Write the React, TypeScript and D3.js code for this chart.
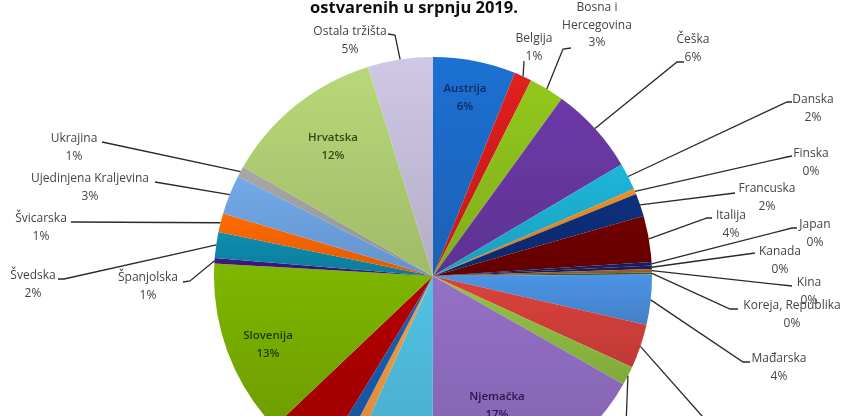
import React from 'react';
import * as d3 from 'd3';

// share of overnight stays per market (%)
const markets = [
  'Austrija', 'Belgija', 'Bosna i Hercegovina', 'Češka', 'Danska', 'Finska', 'Francuska', 'Italija',
  'Japan', 'Kanada', 'Kina', 'Koreja, Republika', 'Mađarska', 'Nizozemska', 'Norveška', 'Njemačka',
  'Poljska', 'Rumunjska', 'Rusija', 'Slovačka', 'Slovenija', 'Španjolska', 'Švedska', 'Švicarska',
  'Ujedinjena Kraljevina', 'Ukrajina', 'Hrvatska', 'Ostala tržišta',
];
const shares = [
  6.1, 1.3, 2.6, 6.5, 2.0, 0.4, 1.7, 3.4,
  0.25, 0.25, 0.25, 0.15, 3.7, 3.25, 1.4, 16.8,
  6.7, 0.9, 1.1, 4.2, 13.0, 0.4, 1.9, 1.4,
  2.9, 0.8, 11.9, 4.8,
];
const shown = [
  '6%', '1%', '3%', '6%', '2%', '0%', '2%', '4%',
  '0%', '0%', '0%', '0%', '4%', '3%', '1%', '17%',
  '7%', '1%', '1%', '4%', '13%', '1%', '2%', '1%',
  '3%', '1%', '12%', '5%',
];
const colors = [
  '#1f70d2', '#e0201f', '#92c81f', '#6c3aa8', '#1fb6da', '#f28c1e', '#0a2f7c', '#720000',
  '#1c1c60', '#1c1c60', '#a5601c', '#38603c', '#4c94e6', '#dc423c', '#94c444', '#9470c6',
  '#52c2e4', '#f79c42', '#1a60b4', '#b40404', '#7eb600', '#3c1a84', '#0a8eb0', '#ff6a00',
  '#72aaea', '#a8a8a8', '#b8d878', '#cfc8e6',
];
const title = 'ostvarenih u srpnju 2019.';

const width = 852;
const height = 416;
const cx = 433;
const cy = 276;
const radius = 219;

// where each outside label sits and how its leader bends: [label x, first line y, [leader points]]
// the last two run off the bottom of the picture, so only their leaders show
type Place = [number, number, [number, number][]];
const outside: Record<string, Place> = {
  'Belgija': [534, 42, [[524, 61]]],
  'Bosna i Hercegovina': [597, 11, [[563, 49], [571, 48]]],
  'Češka': [693, 43, [[677, 62], [684, 62]]],
  'Danska': [813, 103, [[787, 102], [792, 102]]],
  'Finska': [811, 157, [[787, 157], [792, 156]]],
  'Francuska': [767, 192, [[735, 193]]],
  'Italija': [731, 219, [[707, 218], [712, 218]]],
  'Japan': [815, 228, [[792, 228], [797, 228]]],
  'Kanada': [780, 255, [[755, 253]]],
  'Kina': [809, 286, [[792, 286]]],
  'Koreja, Republika': [792, 309, [[730, 309], [738, 309]]],
  'Mađarska': [779, 362, [[743, 362], [750, 362]]],
  'Nizozemska': [725, 440, [[710, 425]]],
  'Norveška': [626, 440, [[626, 425]]],
  'Švedska': [33, 279, [[64, 279], [58, 279]]],
  'Španjolska': [148, 281, [[190, 281], [183, 282]]],
  'Švicarska': [41, 222, [[71, 222]]],
  'Ujedinjena Kraljevina': [90, 182, [[155, 182]]],
  'Ukrajina': [74, 142, [[102, 142]]],
  'Ostala tržišta': [350, 35, [[395, 35], [388, 34]]],
};
// labels printed on the slice itself: [x, first line y, colour]
const inside: Record<string, [number, number, string]> = {
  'Austrija': [465, 92, '#0c2a66'],
  'Hrvatska': [333, 141, '#2f4a12'],
  'Slovenija': [268, 339, '#1c3a00'],
  'Njemačka': [497, 400, '#2c1650'],
};
const lineGap = 17.5;

const App = () => {
  const pie = d3.pie<number>().sort(null).startAngle(0).endAngle(2 * Math.PI);
  const arcs = pie(shares);
  const arc = d3.arc<d3.PieArcDatum<number>>().innerRadius(0).outerRadius(radius);
  const rim = d3.arc<d3.PieArcDatum<number>>().innerRadius(radius).outerRadius(radius);
  const leader = d3.line();

  return (
    <svg width={width} height={height} style={{ position: 'absolute', left: 0, top: 0, background: '#fff' }}>
      <defs>
        <filter id="soft" x="-5%" y="-5%" width="110%" height="110%">
          <feGaussianBlur stdDeviation="0.7" />
        </filter>
        {colors.map((c, i) => (
          <linearGradient key={i} id={`slice${i}`} x1="0" y1="0" x2="0" y2="1">
            <stop offset="0" stopColor={c} />
            <stop offset="1" stopColor={d3.color(c)!.darker(0.4).formatHex()} />
          </linearGradient>
        ))}
      </defs>
      <g filter="url(#soft)">
        <text x={414} y={13} textAnchor="middle" fontFamily="'Open Sans', sans-serif" fontWeight={700} fontSize={16.5} fill="#111">
          {title}
        </text>
        <g transform={`translate(${cx},${cy})`}>
          {arcs.map((d, i) => (
            <path key={markets[i]} d={arc(d)!} fill={`url(#slice${i})`} />
          ))}
        </g>
        {arcs.map((d, i) => {
          const place = outside[markets[i]];
          if (!place) return null;
          const [rx, ry] = rim.centroid(d);
          const pts: [number, number][] = [[cx + rx, cy + ry], ...place[2]];
          return <path key={markets[i]} d={leader(pts)!} fill="none" stroke="#2a2a2a" strokeWidth={1.3} />;
        })}
        <g fontFamily="'Open Sans', sans-serif" fontSize={12} fill="#444" textAnchor="middle">
          {markets.map((name, i) => {
            const place = outside[name];
            if (!place || place[1] > height) return null;
            const lines = name === 'Bosna i Hercegovina' ? ['Bosna i', 'Hercegovina'] : [name];
            return (
              <text key={name} x={place[0]} y={place[1]}>
                {[...lines, shown[i]].map((t, k) => (
                  <tspan key={k} x={place[0]} dy={k === 0 ? 0 : lineGap}>{t}</tspan>
                ))}
              </text>
            );
          })}
        </g>
        <g fontFamily="'Open Sans', sans-serif" fontSize={11.5} fontWeight={600} textAnchor="middle">
          {markets.map((name, i) => {
            const place = inside[name];
            if (!place) return null;
            return (
              <text key={name} x={place[0]} y={place[1]} fill={place[2]}>
                <tspan x={place[0]}>{name}</tspan>
                <tspan x={place[0]} dy={lineGap}>{shown[i]}</tspan>
              </text>
            );
          })}
        </g>
      </g>
    </svg>
  );
};

export default App;
